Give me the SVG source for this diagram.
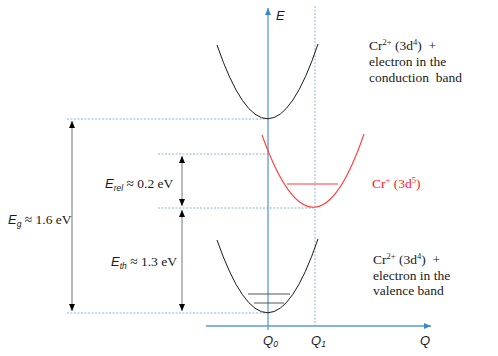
<svg xmlns="http://www.w3.org/2000/svg" width="498" height="356" viewBox="0 0 498 356">
<style>
.axis{stroke:#5B9BD5;stroke-width:1.3;fill:none}
.dash{stroke:#7FAFD8;stroke-width:0.9;stroke-dasharray:2,1.5;fill:none}
.curve{stroke:#1a1a1a;stroke-width:1;fill:none}
.red{stroke:#FF3B3B;stroke-width:1.1;fill:none}
.lvl{stroke:#555;stroke-width:1}
.arr{stroke:#8a8a8a;stroke-width:1.2;fill:none}
.t{font-family:"Liberation Serif","Times New Roman",serif;font-size:13.5px;fill:#1a1a1a}
.tr{font-family:"Liberation Serif","Times New Roman",serif;font-size:13.5px;fill:#FF2020}
.ax{font-family:"Liberation Sans",Arial,sans-serif;font-style:italic;font-size:13px;fill:#1a1a1a}
.sub{font-size:8.5px}
</style>
<defs>
<marker id="blueArr" markerWidth="8" markerHeight="8" refX="7" refY="4" orient="auto" markerUnits="userSpaceOnUse">
<path d="M0,1 L7,4 L0,7 Z" fill="#3A87D0"/>
</marker>
<marker id="blk" markerWidth="8" markerHeight="8" refX="7" refY="4" orient="auto-start-reverse" markerUnits="userSpaceOnUse">
<path d="M0,1 L7,4 L0,7 Z" fill="#000"/>
</marker>
</defs>

<g id="connectors">
<line class="dash" x1="67" y1="119" x2="268" y2="119"/>
<line class="dash" x1="158" y1="154" x2="268" y2="154"/>
<line class="dash" x1="158" y1="208" x2="315" y2="208"/>
<line class="dash" x1="67" y1="313" x2="268" y2="313"/>
<line class="dash" x1="315" y1="6" x2="315" y2="326"/>
<line class="axis" x1="268" y1="330" x2="268" y2="8" marker-end="url(#blueArr)"/>
<line class="axis" x1="206" y1="326" x2="431" y2="326" marker-end="url(#blueArr)"/>
<line class="arr" x1="72" y1="121" x2="72" y2="311" marker-start="url(#blk)" marker-end="url(#blk)"/>
<line class="arr" x1="182" y1="156" x2="182" y2="206" marker-start="url(#blk)" marker-end="url(#blk)"/>
<line class="arr" x1="182" y1="210" x2="182" y2="311" marker-start="url(#blk)" marker-end="url(#blk)"/>
</g>

<g id="conduction">
<path class="curve" d="M217,45 Q268,193 318,44"/>
<text class="t" x="369" y="50">Cr<tspan class="sub" dy="-5">2+</tspan><tspan dy="5"> (3d</tspan><tspan class="sub" dy="-5">4</tspan><tspan dy="5">)&#160; +</tspan></text>
<text class="t" x="369" y="66">electron in the</text>
<text class="t" x="369" y="82">conduction&#160; band</text>
</g>

<g id="crplus">
<path class="red" d="M262,135 Q314,280 364,134"/>
<line class="red" x1="287" y1="184" x2="338" y2="184"/>
<text class="tr" x="372" y="188">Cr<tspan class="sub" dy="-5">+</tspan><tspan dy="5"> (3d</tspan><tspan class="sub" dy="-5">5</tspan><tspan dy="5">)</tspan></text>
</g>

<g id="valence">
<path class="curve" d="M217,240 Q268,386 318,239"/>
<line class="lvl" x1="248" y1="294" x2="290" y2="294"/>
<line class="lvl" x1="254" y1="303" x2="284" y2="303"/>
<text class="t" x="373" y="264">Cr<tspan class="sub" dy="-5">2+</tspan><tspan dy="5"> (3d</tspan><tspan class="sub" dy="-5">4</tspan><tspan dy="5">)&#160; +</tspan></text>
<text class="t" x="373" y="280">electron in the</text>
<text class="t" x="373" y="295">valence band</text>
</g>

<g id="labels">
<text class="ax" x="276" y="20">E</text>
<text class="ax" x="263" y="345">Q<tspan class="sub" dy="2">0</tspan></text>
<text class="ax" x="311" y="345">Q<tspan class="sub" dy="2">1</tspan></text>
<text class="ax" x="420" y="345">Q</text>
<text class="t" x="8" y="224"><tspan class="ax">E</tspan><tspan class="ax sub" dy="3">g</tspan><tspan dy="-3"> ≈ 1.6 eV</tspan></text>
<text class="t" x="105" y="188"><tspan class="ax">E</tspan><tspan class="ax sub" dy="3">rel</tspan><tspan dy="-3"> ≈ 0.2 eV</tspan></text>
<text class="t" x="111" y="266"><tspan class="ax">E</tspan><tspan class="ax sub" dy="3">th</tspan><tspan dy="-3"> ≈ 1.3 eV</tspan></text>
</g>
</svg>
